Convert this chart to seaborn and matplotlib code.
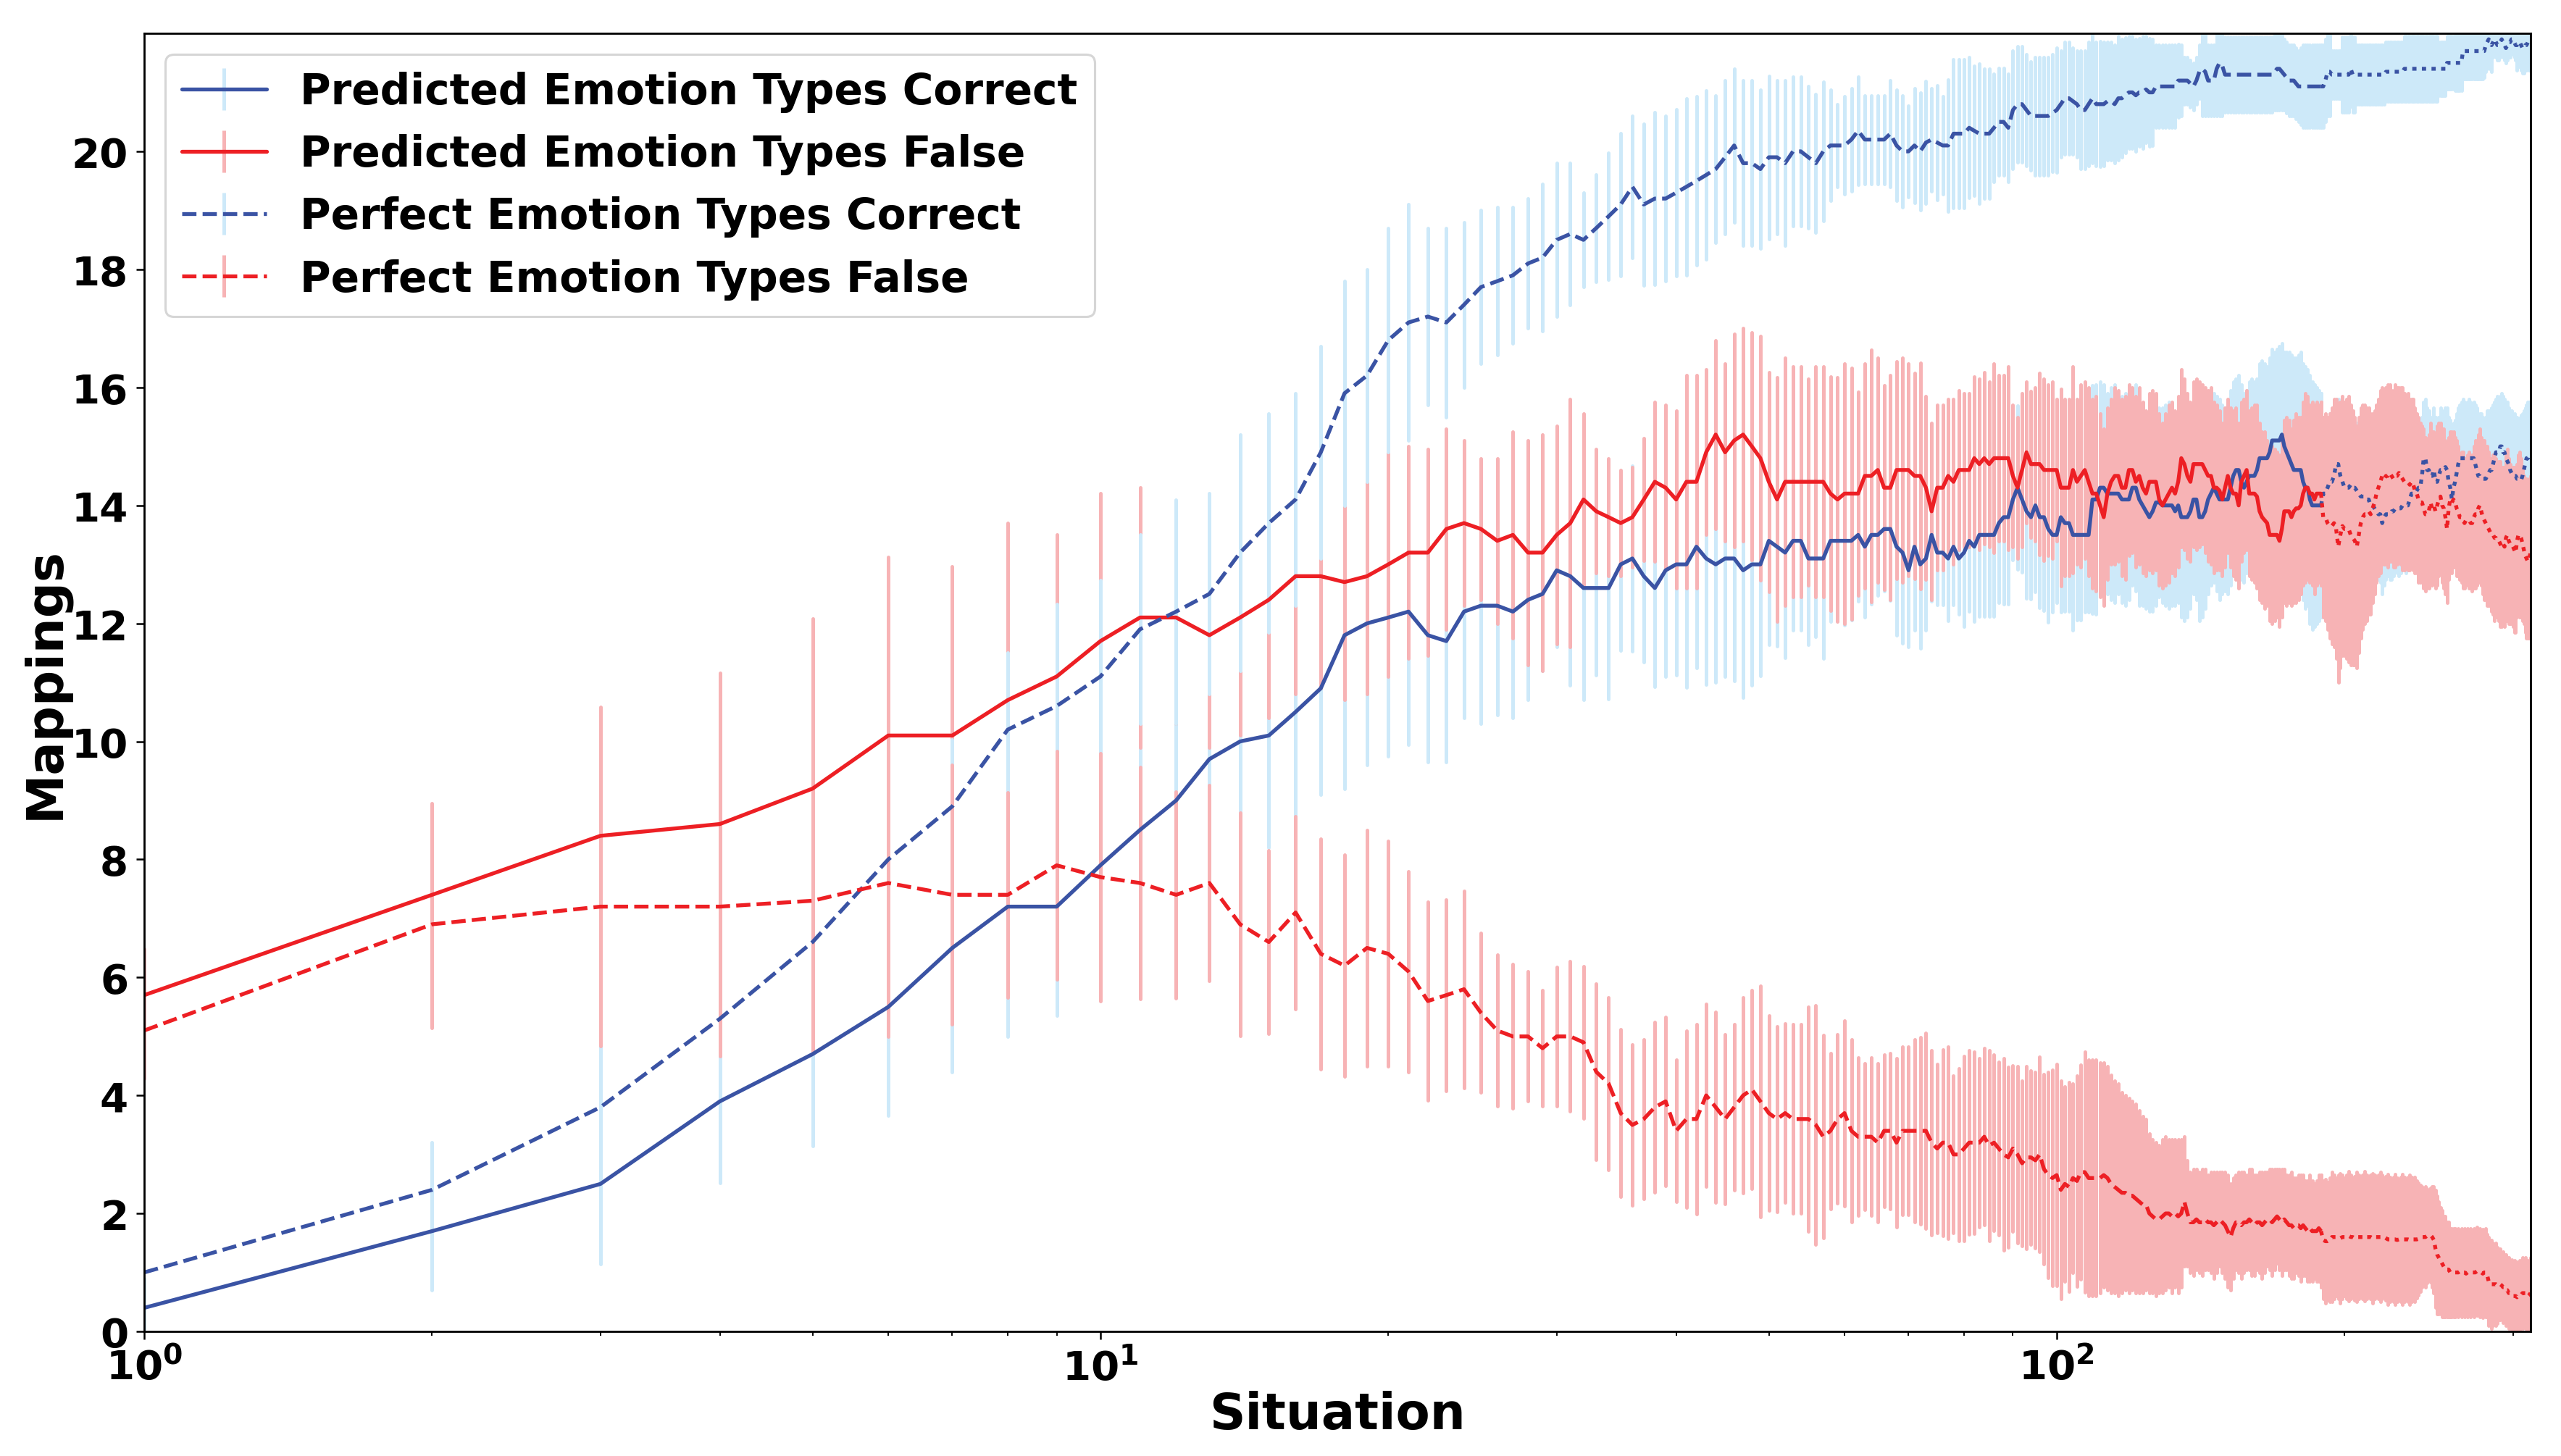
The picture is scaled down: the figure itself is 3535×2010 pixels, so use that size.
import numpy as np
import pandas as pd
import matplotlib
matplotlib.use("Agg")
import matplotlib.pyplot as plt
import seaborn as sns

# mean number of mappings per situation (x = 1, 2, 3, ...) and its std
pred_correct = [
    0.4, 1.7, 2.5, 3.9, 4.7, 5.5, 6.5, 7.2, 7.2, 7.9,
    8.5, 9.0, 9.7, 10.0, 10.1, 10.5, 10.9, 11.8, 12.0, 12.1,
    12.2, 11.8, 11.7, 12.2, 12.3, 12.3, 12.2, 12.4, 12.5, 12.9,
    12.8, 12.6, 12.6, 12.6, 13.0, 13.1, 12.8, 12.6, 12.9, 13.0,
    13.0, 13.3, 13.1, 13.0, 13.1, 13.1, 12.9, 13.0, 13.0, 13.4,
    13.3, 13.2, 13.4, 13.4, 13.1, 13.1, 13.1, 13.4, 13.4, 13.4,
    13.4, 13.5, 13.3, 13.5, 13.5, 13.6, 13.6, 13.3, 13.2, 12.9,
    13.3, 13.0, 13.1, 13.5, 13.2, 13.2, 13.1, 13.3, 13.1, 13.2,
    13.4, 13.3, 13.5, 13.5, 13.5, 13.5, 13.7, 13.8, 13.8, 14.1,
    14.3, 14.1, 13.9, 13.8, 14.0, 13.8, 13.8, 13.6, 13.5, 13.5,
    13.8, 13.7, 13.7, 13.5, 13.5, 13.5, 13.5, 13.5, 14.1, 14.1,
    14.3, 14.3, 14.2, 14.2, 14.2, 14.2, 14.1, 14.1, 14.1, 14.3,
    14.3, 14.1, 14.0, 13.9, 13.8, 13.9, 14.05, 14.05, 14.0, 14.0,
    14.0, 14.0, 13.9, 14.0, 13.8, 13.8, 13.8, 13.9, 14.1, 14.1,
    13.8, 13.8, 13.9, 14.1, 14.2, 14.3, 14.2, 14.1, 14.1, 14.1,
    14.1, 14.3, 14.5, 14.6, 14.6, 14.4, 14.3, 14.4, 14.5, 14.5,
    14.5, 14.6, 14.8, 14.8, 14.8, 14.8, 14.9, 15.1, 15.1, 15.1,
    15.1, 15.2, 15.0, 14.9, 14.8, 14.7, 14.6, 14.6, 14.6, 14.6,
    14.4, 14.3, 14.3, 14.1, 14.0, 14.0, 14.0, 14.0, 14.0, 14.2,
    14.2, 14.3, 14.4, 14.4, 14.5, 14.7, 14.7, 14.5, 14.4, 14.3,
    14.3, 14.3, 14.35, 14.3, 14.3, 14.25, 14.2, 14.15, 14.15, 14.15,
    14.1, 14.1, 14.0, 14.0, 13.95, 13.9, 13.85, 13.85, 13.7, 13.8,
    13.85, 13.85, 13.85, 13.9, 13.9, 13.95, 13.95, 13.95, 13.95, 14.0,
    14.0, 14.0, 14.0, 14.1, 14.2, 14.2, 14.2, 14.25, 14.3, 14.3,
    14.5, 14.8, 14.8, 14.6, 14.6, 14.5, 14.5, 14.6, 14.4, 14.4,
    14.5, 14.6, 14.6, 14.6, 14.65, 14.6, 14.4, 14.3, 14.1, 14.3,
    14.4, 14.55, 14.7, 14.8, 14.8, 14.8, 14.8, 14.8, 14.8, 14.8,
    14.8, 14.8, 14.8, 14.7, 14.6, 14.5, 14.5, 14.45, 14.45, 14.45,
    14.45, 14.5, 14.55, 14.6, 14.6, 14.7, 14.8, 14.9, 14.9, 14.9,
    15.0, 15.0, 14.9, 14.9, 14.8, 14.75, 14.7, 14.6, 14.55, 14.5,
    14.5, 14.5, 14.45, 14.45, 14.43, 14.43, 14.5, 14.6, 14.7, 14.8,
    14.8, 14.85, 14.8,
]
pred_correct_std = [
    0.5, 1.0, 1.36, 1.38, 1.56, 1.84, 2.1, 2.2, 1.85, 2.0,
    1.9, 1.8, 1.8, 1.8, 1.9, 2.1, 1.8, 2.6, 2.4, 2.35,
    2.25, 2.15, 2.05, 1.8, 2.0, 1.85, 1.8, 1.7, 1.3, 1.3,
    1.85, 1.9, 1.48, 1.88, 1.46, 1.57, 1.46, 1.67, 1.8, 1.88,
    2.08, 2.05, 2.13, 2.0, 2.0, 2.07, 2.16, 2.05, 1.89, 1.76,
    1.68, 1.78, 1.51, 1.51, 1.46, 1.32, 1.7, 1.37, 1.35, 1.43,
    1.34, 1.13, 1.19, 1.17, 1.03, 1.05, 1.21, 1.5, 1.54, 1.3,
    1.41, 1.42, 1.21, 1.13, 0.88, 0.88, 1.05, 0.98, 0.95, 1.25,
    1.2, 1.27, 1.38, 1.38, 1.38, 1.38, 1.35, 1.47, 1.47, 1.03,
    1.39, 1.23, 1.47, 1.39, 1.47, 1.54, 1.59, 1.58, 1.31, 1.15,
    1.61, 1.5, 1.5, 1.62, 1.44, 1.44, 1.31, 1.31, 1.93, 1.95,
    1.8, 1.75, 1.7, 1.8, 1.85, 1.7, 1.75, 1.8, 1.7, 1.65,
    1.75, 1.8, 1.7, 1.65, 1.6, 1.7, 1.75, 1.6, 1.65, 1.7,
    1.75, 1.7, 1.6, 1.65, 1.7, 1.75, 1.7, 1.65, 1.6, 1.7,
    1.75, 1.7, 1.65, 1.6, 1.55, 1.6, 1.65, 1.7, 1.6, 1.55,
    1.6, 1.65, 1.6, 1.55, 1.6, 1.65, 1.6, 1.55, 1.6, 1.65,
    1.6, 1.55, 1.6, 1.65, 1.6, 1.55, 1.6, 1.55, 1.5, 1.55,
    1.6, 1.55, 1.6, 1.7, 1.8, 1.85, 1.9, 1.9, 1.95, 2.0,
    2.0, 2.05, 2.0, 2.1, 2.1, 2.05, 2.0, 1.95, 1.9, 1.2,
    1.15, 1.1, 1.15, 1.2, 1.1, 1.05, 1.1, 1.15, 1.1, 1.05,
    1.1, 1.15, 1.1, 1.05, 1.1, 1.15, 1.1, 1.05, 1.1, 1.15,
    1.2, 1.15, 1.1, 1.15, 1.2, 1.15, 1.1, 1.15, 1.2, 1.15,
    1.1, 1.05, 1.1, 1.15, 1.1, 1.05, 1.1, 1.15, 1.1, 1.05,
    1.1, 1.15, 1.1, 1.05, 1.0, 1.05, 1.1, 1.05, 1.0, 1.05,
    1.0, 0.95, 1.0, 1.05, 1.0, 0.95, 1.0, 1.05, 1.1, 1.05,
    1.0, 1.05, 1.0, 0.95, 1.0, 1.05, 1.1, 1.15, 1.2, 1.1,
    1.05, 1.0, 0.95, 0.9, 0.95, 1.0, 0.95, 0.9, 0.95, 1.0,
    0.95, 0.9, 0.95, 1.0, 1.05, 1.0, 1.05, 1.1, 1.05, 1.0,
    1.05, 1.1, 1.05, 1.0, 1.05, 1.0, 0.95, 0.9, 0.95, 0.9,
    0.85, 0.9, 0.95, 0.9, 0.95, 1.0, 0.95, 1.0, 1.05, 1.0,
    1.05, 1.0, 1.05, 1.0, 1.05, 1.1, 1.05, 1.0, 0.95, 0.9,
    0.95, 0.9, 0.95,
]

pred_false = [
    5.7, 7.4, 8.4, 8.6, 9.2, 10.1, 10.1, 10.7, 11.1, 11.7,
    12.1, 12.1, 11.8, 12.1, 12.4, 12.8, 12.8, 12.7, 12.8, 13.0,
    13.2, 13.2, 13.6, 13.7, 13.6, 13.4, 13.5, 13.2, 13.2, 13.5,
    13.7, 14.1, 13.9, 13.8, 13.7, 13.8, 14.1, 14.4, 14.3, 14.1,
    14.4, 14.4, 14.9, 15.2, 14.9, 15.1, 15.2, 15.0, 14.8, 14.4,
    14.1, 14.4, 14.4, 14.4, 14.4, 14.4, 14.4, 14.2, 14.1, 14.2,
    14.2, 14.2, 14.5, 14.5, 14.6, 14.3, 14.3, 14.6, 14.6, 14.6,
    14.5, 14.5, 14.3, 13.9, 14.3, 14.3, 14.5, 14.4, 14.6, 14.6,
    14.6, 14.8, 14.7, 14.8, 14.7, 14.8, 14.8, 14.8, 14.8, 14.5,
    14.3, 14.6, 14.9, 14.7, 14.7, 14.7, 14.6, 14.6, 14.6, 14.6,
    14.3, 14.3, 14.3, 14.6, 14.4, 14.5, 14.6, 14.4, 14.2, 14.2,
    14.0, 13.8, 14.2, 14.4, 14.5, 14.5, 14.3, 14.3, 14.6, 14.6,
    14.4, 14.5, 14.3, 14.2, 14.4, 14.4, 14.4, 14.1, 14.0, 14.1,
    14.2, 14.3, 14.2, 14.4, 14.8, 14.7, 14.5, 14.4, 14.7, 14.7,
    14.7, 14.7, 14.6, 14.5, 14.5, 14.3, 14.3, 14.25, 14.1, 14.3,
    14.5, 14.3, 14.2, 14.2, 14.0, 14.4, 14.5, 14.6, 14.2, 14.2,
    14.2, 14.15, 13.9, 13.8, 13.75, 13.7, 13.5, 13.5, 13.5, 13.5,
    13.4, 13.6, 13.9, 13.9, 13.9, 13.8, 13.9, 13.95, 13.95, 14.0,
    14.2, 14.3, 14.3, 14.2, 14.2, 14.1, 14.2, 14.2, 14.2, 13.8,
    13.8, 13.7, 13.65, 13.65, 13.7, 13.6, 13.3, 13.5, 13.65, 13.6,
    13.6, 13.6, 13.5, 13.45, 13.4, 13.3, 13.5, 13.7, 13.8, 13.85,
    13.85, 13.9, 13.85, 13.95, 14.05, 14.2, 14.3, 14.4, 14.5, 14.45,
    14.5, 14.5, 14.55, 14.5, 14.45, 14.5, 14.5, 14.55, 14.5, 14.45,
    14.4, 14.4, 14.4, 14.35, 14.4, 14.35, 14.25, 14.2, 14.1, 14.05,
    14.05, 13.95, 13.85, 13.85, 13.9, 14.05, 13.95, 14.0, 13.9, 14.0,
    14.1, 14.15, 14.0, 13.95, 13.8, 13.6, 13.95, 14.1, 14.05, 14.1,
    14.05, 13.95, 13.9, 13.8, 13.8, 13.75, 13.7, 13.75, 13.75, 13.75,
    13.7, 13.7, 13.8, 13.85, 13.85, 13.95, 14.0, 13.9, 13.8, 13.75,
    13.7, 13.65, 13.6, 13.55, 13.5, 13.5, 13.45, 13.45, 13.4, 13.4,
    13.35, 13.3, 13.35, 13.3, 13.45, 13.5, 13.4, 13.35, 13.3, 13.3,
    13.25, 13.2, 13.4, 13.5, 13.5, 13.45, 13.35, 13.25, 13.15, 13.1,
    13.05, 13.1, 13.2,
]
pred_false_std = [
    0.78, 1.55, 2.18, 2.56, 2.88, 3.03, 2.86, 3.0, 2.4, 2.5,
    2.2, 1.8, 1.9, 2.0, 2.0, 2.0, 1.9, 2.0, 2.0, 1.9,
    1.8, 1.75, 1.7, 1.4, 1.2, 1.4, 1.75, 1.9, 2.0, 1.85,
    2.1, 1.45, 1.05, 1.0, 0.9, 0.85, 1.04, 1.35, 1.4, 1.5,
    1.8, 1.8, 1.4, 1.6, 1.5, 1.8, 1.8, 1.93, 2.07, 1.86,
    2.07, 2.1, 1.95, 1.95, 1.75, 1.95, 1.95, 1.98, 2.07, 2.2,
    2.13, 1.72, 1.9, 2.14, 1.9, 1.73, 1.9, 1.84, 1.9, 1.8,
    1.74, 1.92, 1.55, 1.5, 1.4, 1.4, 1.3, 1.4, 1.35, 1.3,
    1.3, 1.38, 1.45, 1.46, 1.4, 1.6, 1.4, 1.4, 1.55, 1.2,
    1.2, 1.3, 1.2, 1.24, 1.3, 1.54, 1.54, 1.45, 1.5, 1.2,
    1.67, 1.5, 1.5, 1.75, 1.4, 1.55, 1.5, 1.6, 1.6, 1.65,
    1.55, 1.5, 1.45, 1.4, 1.5, 1.45, 1.5, 1.55, 1.45, 1.4,
    1.45, 1.5, 1.45, 1.4, 1.5, 1.55, 1.5, 1.45, 1.4, 1.45,
    1.5, 1.45, 1.4, 1.45, 1.5, 1.45, 1.4, 1.35, 1.4, 1.45,
    1.4, 1.35, 1.4, 1.45, 1.5, 1.45, 1.4, 1.35, 1.3, 1.35,
    1.3, 1.35, 1.4, 1.45, 1.4, 1.35, 1.3, 1.35, 1.4, 1.45,
    1.5, 1.55, 1.5, 1.45, 1.5, 1.4, 1.45, 1.5, 1.45, 1.4,
    1.45, 1.5, 1.55, 1.6, 1.55, 1.5, 1.55, 1.6, 1.55, 1.5,
    1.55, 1.6, 1.55, 1.5, 1.55, 1.6, 1.55, 1.5, 1.55, 1.7,
    1.75, 1.8, 1.9, 2.0, 2.1, 2.2, 2.3, 2.25, 2.2, 2.15,
    2.2, 2.25, 2.2, 2.15, 2.1, 2.05, 2.0, 1.95, 1.9, 1.85,
    1.8, 1.75, 1.7, 1.6, 1.55, 1.5, 1.5, 1.55, 1.5, 1.45,
    1.5, 1.55, 1.5, 1.45, 1.5, 1.55, 1.5, 1.45, 1.5, 1.55,
    1.5, 1.45, 1.5, 1.45, 1.4, 1.45, 1.4, 1.35, 1.4, 1.35,
    1.3, 1.35, 1.3, 1.25, 1.3, 1.35, 1.3, 1.25, 1.3, 1.35,
    1.3, 1.25, 1.3, 1.35, 1.3, 1.25, 1.2, 1.15, 1.2, 1.15,
    1.1, 1.15, 1.1, 1.05, 1.1, 1.15, 1.1, 1.05, 1.1, 1.15,
    1.1, 1.15, 1.2, 1.25, 1.2, 1.25, 1.3, 1.25, 1.3, 1.35,
    1.3, 1.35, 1.3, 1.25, 1.3, 1.35, 1.4, 1.35, 1.3, 1.35,
    1.4, 1.35, 1.3, 1.35, 1.4, 1.45, 1.4, 1.35, 1.3, 1.35,
    1.4, 1.35, 1.3, 1.35, 1.4, 1.35, 1.3, 1.25, 1.3, 1.35,
    1.3, 1.35, 1.3,
]

perf_correct = [
    1.0, 2.4, 3.8, 5.3, 6.6, 8.0, 8.9, 10.2, 10.6, 11.1,
    11.9, 12.2, 12.5, 13.2, 13.7, 14.1, 14.9, 15.9, 16.2, 16.8,
    17.1, 17.2, 17.1, 17.4, 17.7, 17.8, 17.9, 18.1, 18.2, 18.5,
    18.6, 18.5, 18.7, 18.9, 19.1, 19.4, 19.1, 19.2, 19.2, 19.3,
    19.4, 19.5, 19.6, 19.7, 19.9, 20.1, 19.8, 19.8, 19.7, 19.9,
    19.9, 19.8, 20.0, 20.0, 19.9, 19.8, 20.0, 20.1, 20.1, 20.1,
    20.2, 20.35, 20.2, 20.2, 20.2, 20.2, 20.3, 20.1, 20.0, 20.0,
    20.1, 20.0, 20.15, 20.2, 20.15, 20.1, 20.1, 20.3, 20.3, 20.3,
    20.4, 20.35, 20.3, 20.3, 20.3, 20.4, 20.5, 20.5, 20.4, 20.7,
    20.8, 20.8, 20.7, 20.6, 20.6, 20.6, 20.6, 20.6, 20.65, 20.7,
    20.8, 20.9, 20.9, 20.85, 20.8, 20.7, 20.7, 20.8, 20.9, 20.8,
    20.8, 20.8, 20.85, 20.85, 20.8, 20.9, 20.9, 20.95, 21.0, 21.0,
    20.95, 21.0, 21.0, 21.05, 21.0, 21.0, 21.1, 21.1, 21.1, 21.1,
    21.1, 21.1, 21.1, 21.2, 21.2, 21.2, 21.2, 21.15, 21.1, 21.2,
    21.35, 21.4, 21.35, 21.2, 21.2, 21.2, 21.4, 21.5, 21.45, 21.3,
    21.3, 21.3, 21.3, 21.3, 21.3, 21.3, 21.3, 21.3, 21.3, 21.3,
    21.3, 21.3, 21.3, 21.3, 21.3, 21.3, 21.3, 21.3, 21.35, 21.4,
    21.4, 21.35, 21.3, 21.25, 21.2, 21.2, 21.2, 21.15, 21.1, 21.1,
    21.1, 21.1, 21.1, 21.1, 21.1, 21.1, 21.1, 21.1, 21.1, 21.1,
    21.2, 21.35, 21.35, 21.3, 21.3, 21.3, 21.3, 21.3, 21.3, 21.3,
    21.3, 21.3, 21.4, 21.3, 21.3, 21.3, 21.3, 21.3, 21.3, 21.3,
    21.3, 21.3, 21.3, 21.3, 21.3, 21.3, 21.3, 21.3, 21.3, 21.3,
    21.35, 21.35, 21.35, 21.35, 21.35, 21.35, 21.35, 21.35, 21.35, 21.35,
    21.4, 21.4, 21.4, 21.4, 21.4, 21.4, 21.4, 21.4, 21.4, 21.4,
    21.4, 21.4, 21.4, 21.4, 21.4, 21.4, 21.4, 21.4, 21.4, 21.4,
    21.4, 21.4, 21.4, 21.4, 21.4, 21.5, 21.5, 21.5, 21.5, 21.5,
    21.5, 21.5, 21.5, 21.5, 21.5, 21.7, 21.7, 21.7, 21.7, 21.7,
    21.7, 21.7, 21.7, 21.7, 21.7, 21.7, 21.7, 21.7, 21.7, 21.7,
    21.8, 21.85, 21.9, 21.85, 21.8, 21.85, 21.9, 21.85, 21.8, 21.8,
    21.85, 21.9, 21.85, 21.8, 21.75, 21.8, 21.85, 21.85, 21.9, 21.9,
    21.85, 21.8, 21.8, 21.85, 21.85, 21.8, 21.75, 21.75, 21.8, 21.8,
    21.85, 21.8, 21.8,
]
perf_correct_std = [
    0.0, 0.8, 1.1, 1.2, 1.3, 1.5, 1.13, 1.3, 1.73, 1.63,
    1.6, 1.9, 1.7, 2.0, 1.85, 1.8, 1.8, 1.9, 1.8, 1.9,
    2.0, 1.5, 1.6, 1.4, 1.3, 1.25, 1.15, 1.1, 1.25, 1.3,
    1.2, 0.8, 0.91, 1.07, 1.21, 1.2, 1.37, 1.46, 1.4, 1.41,
    1.5, 1.43, 1.43, 1.25, 1.3, 1.3, 1.4, 1.4, 1.34, 1.38,
    1.3, 1.4, 1.26, 1.26, 1.2, 1.17, 1.18, 0.94, 0.7, 0.83,
    0.87, 0.92, 0.75, 0.75, 0.75, 0.75, 0.9, 0.94, 0.94, 0.77,
    0.97, 1.0, 1.04, 0.87, 0.97, 0.83, 1.12, 1.26, 1.26, 1.26,
    1.19, 1.1, 1.19, 1.1, 1.1, 0.91, 0.91, 0.91, 0.91, 1.0,
    0.98, 0.98, 0.95, 0.92, 1.0, 1.0, 1.0, 1.0, 1.0, 1.06,
    0.9, 0.95, 0.95, 0.9, 0.9, 1.0, 1.0, 1.05, 1.1, 1.05,
    1.06, 1.05, 1.0, 1.0, 1.0, 1.05, 1.0, 0.98, 0.95, 0.95,
    0.95, 0.92, 0.95, 0.9, 0.92, 0.9, 0.7, 0.7, 0.7, 0.7,
    0.7, 0.7, 0.7, 0.62, 0.6, 0.4, 0.4, 0.4, 0.4, 0.4,
    0.45, 0.8, 0.75, 0.6, 0.6, 0.6, 0.8, 0.9, 0.85, 0.64,
    0.64, 0.64, 0.64, 0.64, 0.64, 0.64, 0.64, 0.64, 0.64, 0.64,
    0.64, 0.64, 0.64, 0.64, 0.64, 0.64, 0.64, 0.64, 0.65, 0.7,
    0.7, 0.65, 0.6, 0.6, 0.6, 0.6, 0.6, 0.6, 0.6, 0.65,
    0.7, 0.7, 0.7, 0.7, 0.7, 0.7, 0.7, 0.7, 0.7, 0.7,
    0.7, 0.75, 0.75, 0.4, 0.4, 0.4, 0.4, 0.4, 0.64, 0.64,
    0.64, 0.64, 0.64, 0.64, 0.64, 0.5, 0.5, 0.5, 0.5, 0.5,
    0.5, 0.5, 0.5, 0.5, 0.5, 0.5, 0.5, 0.5, 0.5, 0.5,
    0.5, 0.5, 0.5, 0.5, 0.5, 0.5, 0.5, 0.5, 0.5, 0.5,
    0.55, 0.55, 0.55, 0.55, 0.55, 0.55, 0.55, 0.55, 0.55, 0.55,
    0.55, 0.55, 0.55, 0.55, 0.55, 0.55, 0.55, 0.55, 0.55, 0.55,
    0.45, 0.45, 0.45, 0.45, 0.45, 0.45, 0.45, 0.45, 0.45, 0.45,
    0.47, 0.47, 0.47, 0.47, 0.47, 0.47, 0.47, 0.47, 0.47, 0.47,
    0.47, 0.47, 0.47, 0.47, 0.47, 0.47, 0.47, 0.47, 0.47, 0.45,
    0.45, 0.45, 0.45, 0.45, 0.45, 0.25, 0.25, 0.25, 0.25, 0.25,
    0.25, 0.25, 0.25, 0.25, 0.25, 0.25, 0.25, 0.25, 0.25, 0.25,
    0.25, 0.25, 0.42, 0.42, 0.42, 0.42, 0.42, 0.42, 0.42, 0.42,
    0.42, 0.42, 0.42,
]

perf_false = [
    5.1, 6.9, 7.2, 7.2, 7.3, 7.6, 7.4, 7.4, 7.9, 7.7,
    7.6, 7.4, 7.6, 6.9, 6.6, 7.1, 6.4, 6.2, 6.5, 6.4,
    6.1, 5.6, 5.7, 5.8, 5.4, 5.1, 5.0, 5.0, 4.8, 5.0,
    5.0, 4.9, 4.4, 4.2, 3.7, 3.5, 3.6, 3.8, 3.9, 3.4,
    3.6, 3.6, 4.0, 3.8, 3.6, 3.8, 4.0, 4.1, 3.9, 3.7,
    3.6, 3.7, 3.6, 3.6, 3.6, 3.5, 3.3, 3.4, 3.6, 3.7,
    3.4, 3.3, 3.3, 3.3, 3.2, 3.4, 3.4, 3.2, 3.4, 3.4,
    3.4, 3.4, 3.4, 3.2, 3.1, 3.2, 3.2, 3.0, 3.0, 3.1,
    3.2, 3.2, 3.2, 3.3, 3.15, 3.2, 3.1, 3.0, 2.95, 3.1,
    3.0, 2.85, 2.95, 2.95, 2.9, 3.0, 2.75, 2.65, 2.6, 2.65,
    2.4, 2.5, 2.45, 2.6, 2.55, 2.7, 2.7, 2.6, 2.6, 2.6,
    2.6, 2.65, 2.6, 2.5, 2.45, 2.4, 2.35, 2.35, 2.3, 2.3,
    2.25, 2.2, 2.15, 2.15, 2.0, 1.95, 1.9, 1.9, 1.95, 2.0,
    2.0, 1.95, 2.0, 1.95, 2.0, 2.2, 2.0, 1.85, 1.85, 1.9,
    1.85, 1.85, 1.9, 1.85, 1.85, 1.8, 1.85, 1.9, 1.85, 1.8,
    1.7, 1.6, 1.75, 1.85, 1.85, 1.8, 1.85, 1.85, 1.9, 1.85,
    1.8, 1.85, 1.85, 1.8, 1.85, 1.9, 1.9, 1.85, 1.9, 1.95,
    1.9, 1.85, 1.9, 1.85, 1.8, 1.8, 1.75, 1.8, 1.8, 1.75,
    1.8, 1.75, 1.7, 1.75, 1.7, 1.7, 1.7, 1.75, 1.7, 1.55,
    1.53, 1.53, 1.55, 1.6, 1.6, 1.6, 1.6, 1.58, 1.6, 1.6,
    1.6, 1.62, 1.6, 1.6, 1.58, 1.6, 1.6, 1.6, 1.6, 1.62,
    1.6, 1.6, 1.6, 1.58, 1.6, 1.6, 1.6, 1.6, 1.6, 1.6,
    1.58, 1.56, 1.56, 1.56, 1.56, 1.56, 1.55, 1.56, 1.56, 1.56,
    1.56, 1.56, 1.56, 1.55, 1.56, 1.56, 1.56, 1.56, 1.57, 1.58,
    1.6, 1.6, 1.6, 1.62, 1.63, 1.63, 1.6, 1.55, 1.4, 1.3,
    1.25, 1.2, 1.15, 1.1, 1.1, 1.05, 1.05, 1.0, 1.0, 1.0,
    1.0, 1.0, 1.0, 1.02, 1.0, 1.0, 1.0, 0.98, 1.0, 1.0,
    1.0, 1.0, 1.0, 1.0, 1.02, 1.0, 1.0, 1.0, 0.98, 1.0,
    1.0, 0.95, 0.85, 0.85, 0.8, 0.8, 0.8, 0.8, 0.78, 0.8,
    0.8, 0.78, 0.75, 0.75, 0.7, 0.7, 0.65, 0.65, 0.62, 0.6,
    0.6, 0.6, 0.58, 0.6, 0.6, 0.62, 0.65, 0.65, 0.65, 0.65,
    0.6, 0.62, 0.65,
]
perf_false_std = [
    0.81, 1.75, 2.36, 2.53, 2.58, 2.6, 2.2, 1.74, 1.93, 2.1,
    1.96, 1.75, 1.66, 1.89, 1.55, 1.63, 1.95, 1.88, 2.0, 1.91,
    1.7, 1.68, 1.62, 1.67, 1.35, 1.28, 1.22, 1.1, 0.98, 1.18,
    1.27, 1.29, 1.49, 1.46, 1.42, 1.36, 1.35, 1.44, 1.43, 1.2,
    1.5, 1.61, 1.55, 1.62, 1.44, 1.4, 1.66, 1.68, 1.96, 1.65,
    1.57, 1.52, 1.6, 1.6, 1.9, 2.03, 1.72, 1.32, 1.43, 1.57,
    1.55, 1.34, 1.24, 1.34, 1.34, 1.29, 1.32, 1.43, 1.42, 1.42,
    1.55, 1.58, 1.66, 1.57, 1.43, 1.58, 1.63, 1.33, 1.46, 1.56,
    1.56, 1.54, 1.43, 1.5, 1.62, 1.49, 1.47, 1.63, 1.53, 1.41,
    1.5, 1.4, 1.55, 1.47, 1.49, 1.65, 1.61, 1.74, 1.83, 1.88,
    1.85, 1.65, 1.77, 1.6, 1.79, 1.82, 2.04, 2.0, 2.0, 2.0,
    1.95, 1.9, 1.9, 1.85, 1.8, 1.8, 1.7, 1.65, 1.65, 1.6,
    1.6, 1.55, 1.5, 1.45, 1.35, 1.3, 1.3, 1.25, 1.3, 1.3,
    1.25, 1.3, 1.25, 1.3, 1.25, 1.1, 0.9, 0.85, 0.9, 0.85,
    0.85, 0.9, 0.85, 0.8, 0.85, 0.9, 0.85, 0.8, 0.85, 0.9,
    0.95, 0.9, 0.85, 0.8, 0.85, 0.9, 0.85, 0.8, 0.85, 0.9,
    0.85, 0.8, 0.85, 0.9, 0.85, 0.8, 0.85, 0.9, 0.85, 0.8,
    0.85, 0.9, 0.85, 0.8, 0.85, 0.9, 0.85, 0.8, 0.85, 0.9,
    0.85, 0.8, 0.85, 0.9, 0.85, 0.8, 0.85, 0.9, 0.95, 1.0,
    1.05, 1.0, 1.05, 1.1, 1.05, 1.0, 1.05, 1.1, 1.05, 1.0,
    1.05, 1.1, 1.05, 1.0, 1.05, 1.1, 1.05, 1.0, 1.05, 1.1,
    1.05, 1.0, 1.05, 1.1, 1.05, 1.0, 1.05, 1.1, 1.05, 1.0,
    1.05, 1.1, 1.05, 1.0, 1.05, 1.1, 1.05, 1.0, 1.05, 1.1,
    1.05, 1.0, 1.05, 1.1, 1.05, 1.0, 1.05, 1.0, 0.95, 0.9,
    0.85, 0.8, 0.85, 0.8, 0.75, 0.8, 0.85, 0.9, 1.0, 1.0,
    0.95, 0.9, 0.9, 0.85, 0.85, 0.8, 0.8, 0.75, 0.75, 0.75,
    0.75, 0.7, 0.75, 0.7, 0.75, 0.7, 0.75, 0.7, 0.75, 0.7,
    0.75, 0.7, 0.75, 0.7, 0.75, 0.7, 0.75, 0.7, 0.75, 0.7,
    0.75, 0.7, 0.75, 0.7, 0.75, 0.7, 0.65, 0.7, 0.65, 0.6,
    0.6, 0.55, 0.6, 0.55, 0.6, 0.55, 0.6, 0.55, 0.6, 0.55,
    0.6, 0.55, 0.6, 0.55, 0.6, 0.55, 0.6, 0.55, 0.6, 0.55,
    0.6, 0.55, 0.6,
]

labels = [
    "Predicted Emotion Types Correct",
    "Predicted Emotion Types False",
    "Perfect Emotion Types Correct",
    "Perfect Emotion Types False",
]

BLUE = "#3A53A4"
RED = "#ED1F24"
LIGHT_BLUE = "#CDE9F9"
PINK = "#F7B3B5"
SPLIT = 189  # from this situation on the curves are drawn dotted


def to_frame(mean, std):
    """Two rows per situation (mean - std and mean + std): seaborn's mean and
    its 100% percentile interval then give back the mean and the std bar."""
    mean = np.asarray(mean, dtype=float)
    std = np.asarray(std, dtype=float)
    x = np.arange(1, len(mean) + 1)
    return pd.DataFrame({
        "situation": np.concatenate([x, x]),
        "mappings": np.concatenate([mean - std, mean + std]),
    })


def plot_series(ax, mean, std, color, ecolor, ls):
    df = to_frame(mean, std)
    kws = dict(x="situation", y="mappings", estimator="mean",
               errorbar=("pi", 100), err_style="bars", color=color, lw=1.7,
               legend=False, ax=ax,
               err_kws={"ecolor": ecolor, "elinewidth": 1.6, "zorder": 1})
    n = len(ax.lines)
    sns.lineplot(data=df[df["situation"] <= SPLIT], linestyle=ls, **kws)
    line = ax.lines[n]
    bars = ax.containers[-1]
    sns.lineplot(data=df[df["situation"] >= SPLIT],
                 linestyle=(0, (1.1, 1.4)), **kws)
    return (bars, line)


sns.set_style("ticks")
plt.rcParams["font.family"] = ["DejaVu Sans"]
plt.rcParams["font.weight"] = "bold"
plt.rcParams["axes.labelweight"] = "bold"
for key in ["text.color", "axes.labelcolor", "axes.edgecolor",
            "xtick.color", "ytick.color"]:
    plt.rcParams[key] = "black"
plt.rcParams["xtick.labelsize"] = 18
plt.rcParams["ytick.labelsize"] = 18
plt.rcParams["axes.linewidth"] = 0.9

fig, ax = plt.subplots(figsize=(3535 / 225, 2011 / 225), dpi=225)
fig.subplots_adjust(left=0.0563, right=0.9881, bottom=0.0855, top=0.9766)
ax.set_xscale("log")

handles = [
    plot_series(ax, pred_correct, pred_correct_std, BLUE, LIGHT_BLUE, "-"),
    plot_series(ax, pred_false, pred_false_std, RED, PINK, "-"),
    plot_series(ax, perf_correct, perf_correct_std, BLUE, LIGHT_BLUE, "--"),
    plot_series(ax, perf_false, perf_false_std, RED, PINK, "--"),
]

ax.set_xlim(1, len(perf_correct))
ax.set_ylim(0, 22)
ax.set_yticks(np.arange(0, 21, 2))
ax.set_xlabel("Situation", fontsize=22, fontweight="bold", labelpad=1)
ax.set_ylabel("Mappings", fontsize=22, fontweight="bold", labelpad=1)
for side in ["top", "right", "bottom", "left"]:
    ax.spines[side].set_visible(True)

ax.legend(handles, labels, loc="upper left",
          prop={"weight": "bold", "size": 18.6})

fig.savefig("out.png", dpi=225)
